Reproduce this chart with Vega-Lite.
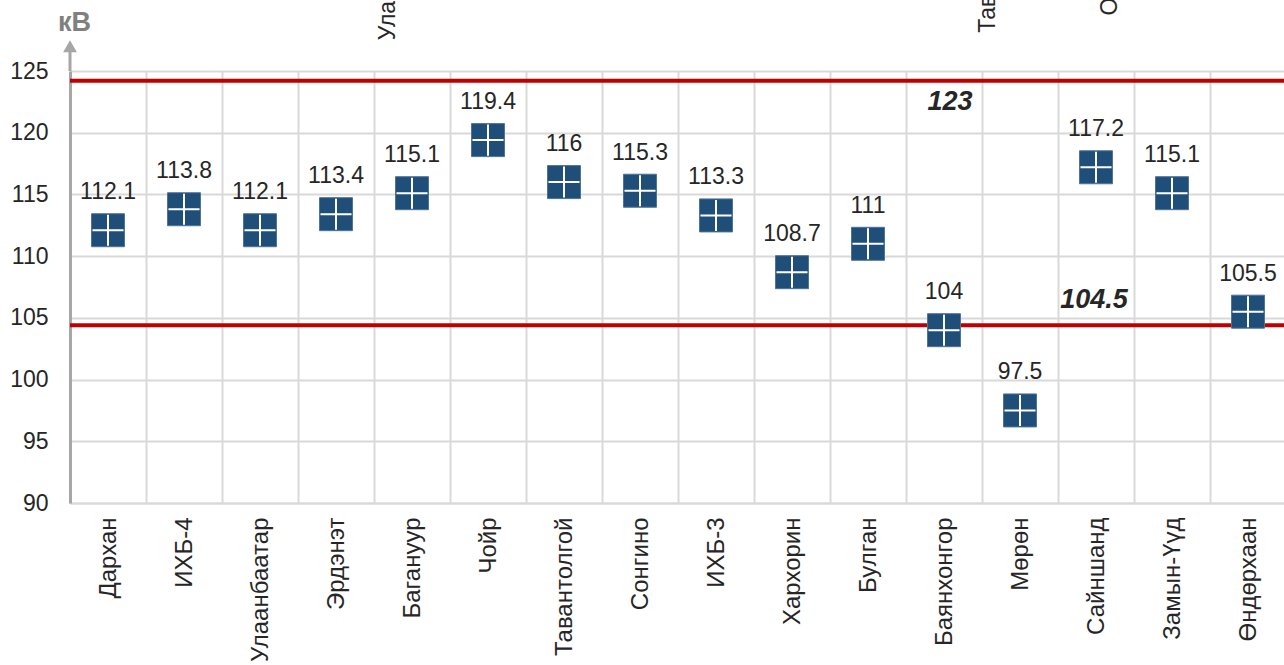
{
  "$schema": "https://vega.github.io/schema/vega-lite/v6.json",
  "autosize": {"type": "none"},
  "padding": {"left": 70, "top": 71, "right": 0, "bottom": 162},
  "width": 1216,
  "height": 432,
  "background": "white",
  "config": {
    "view": {"stroke": null},
    "font": "Liberation Sans",
    "text": {"font": "Liberation Sans"}
  },
  "datasets": {
    "stations": [
      {"station": "Дархан", "kv": 112.1},
      {"station": "ИХБ-4", "kv": 113.8},
      {"station": "Улаанбаатар", "kv": 112.1},
      {"station": "Эрдэнэт", "kv": 113.4},
      {"station": "Багануур", "kv": 115.1},
      {"station": "Чойр", "kv": 119.4},
      {"station": "Тавантолгой", "kv": 116},
      {"station": "Сонгино", "kv": 115.3},
      {"station": "ИХБ-3", "kv": 113.3},
      {"station": "Хархорин", "kv": 108.7},
      {"station": "Булган", "kv": 111},
      {"station": "Баянхонгор", "kv": 104},
      {"station": "Мөрөн", "kv": 97.5},
      {"station": "Сайншанд", "kv": 117.2},
      {"station": "Замын-Үүд", "kv": 115.1},
      {"station": "Өндөрхаан", "kv": 105.5}
    ],
    "limits": [
      {"v": 124.2, "label": "123"},
      {"v": 104.4, "label": "104.5"}
    ]
  },
  "layer": [
    {
      "data": {"name": "stations"},
      "mark": {"type": "point", "opacity": 0},
      "encoding": {
        "x": {
          "field": "station", "type": "nominal", "sort": null,
          "scale": {"paddingInner": 0, "paddingOuter": 0},
          "axis": {
            "title": null, "grid": true, "tickBand": "extent",
            "gridColor": "#D9D9D9", "gridWidth": 2,
            "ticks": false, "domainColor": "#D9D9D9", "domainWidth": 2,
            "labelAngle": 270, "labelFontSize": 24, "labelColor": "#262626",
            "labelPadding": 14, "labelFont": "Liberation Sans", "labelLimit": 300
          }
        },
        "y": {
          "field": "kv", "type": "quantitative",
          "scale": {"domain": [90, 125], "nice": false, "zero": false},
          "axis": {
            "values": [90, 95, 100, 105, 110, 115, 120, 125],
            "grid": true, "gridColor": "#D9D9D9", "gridWidth": 2,
            "ticks": false, "domainColor": "#A6A6A6", "domainWidth": 3,
            "labelFontSize": 23, "labelColor": "#262626", "labelPadding": 22,
            "labelFont": "Liberation Sans",
            "title": "кВ", "titleAngle": 0, "titleX": 4, "titleY": -49,
            "titleAlign": "center", "titleBaseline": "middle",
            "titleFontSize": 27, "titleFontWeight": "bold", "titleColor": "#808080",
            "titleFont": "Liberation Sans"
          }
        }
      }
    },
    {
      "data": {"name": "limits"},
      "mark": {"type": "rule", "color": "#C00000", "strokeWidth": 4},
      "encoding": {"y": {"field": "v", "type": "quantitative"}}
    },
    {
      "data": {"values": [{}]},
      "mark": {"type": "rule", "color": "#A6A6A6", "strokeWidth": 3},
      "encoding": {
        "x": {"datum": "Дархан", "bandPosition": 0},
        "y": {"datum": 125},
        "y2": {"datum": 126.6}
      }
    },
    {
      "data": {"values": [{}]},
      "mark": {"type": "point", "shape": "triangle-up", "filled": true, "color": "#A6A6A6", "size": 190, "opacity": 1},
      "encoding": {
        "x": {"datum": "Дархан", "bandPosition": 0},
        "y": {"datum": 127.0}
      }
    },
    {
      "data": {"name": "stations"},
      "mark": {"type": "point", "shape": "square", "filled": true, "color": "#1F4E79", "stroke": "#4F7399", "strokeWidth": 1, "size": 1089, "opacity": 1},
      "encoding": {
        "x": {"field": "station", "type": "nominal", "sort": null},
        "y": {"field": "kv", "type": "quantitative"}
      }
    },
    {
      "data": {"name": "stations"},
      "mark": {"type": "point", "shape": "M-0.94,0H0.94M0,-0.94V0.94", "filled": false, "stroke": "white", "strokeWidth": 2, "size": 1089, "opacity": 1},
      "encoding": {
        "x": {"field": "station", "type": "nominal", "sort": null},
        "y": {"field": "kv", "type": "quantitative"}
      }
    },
    {
      "data": {"name": "stations"},
      "mark": {"type": "text", "dy": -38, "fontSize": 23, "color": "#262626", "baseline": "middle", "align": "center"},
      "encoding": {
        "x": {"field": "station", "type": "nominal", "sort": null},
        "y": {"field": "kv", "type": "quantitative"},
        "text": {"field": "kv", "type": "quantitative"}
      }
    },
    {
      "data": {"name": "limits"},
      "transform": [{"filter": "datum.label === '123'"}],
      "mark": {"type": "text", "dx": 6, "dy": 21, "fontSize": 27, "fontWeight": "bold", "fontStyle": "italic", "color": "#262626", "baseline": "middle", "align": "center"},
      "encoding": {
        "x": {"datum": "Баянхонгор"},
        "y": {"field": "v", "type": "quantitative"},
        "text": {"field": "label"}
      }
    },
    {
      "data": {"name": "limits"},
      "transform": [{"filter": "datum.label === '104.5'"}],
      "mark": {"type": "text", "dx": -2, "dy": -25, "fontSize": 27, "fontWeight": "bold", "fontStyle": "italic", "color": "#262626", "baseline": "middle", "align": "center"},
      "encoding": {
        "x": {"datum": "Сайншанд"},
        "y": {"field": "v", "type": "quantitative"},
        "text": {"field": "label"}
      }
    },
    {
      "data": {"values": [{"t": "Улаанбаатар"}]},
      "mark": {"type": "text", "angle": 270, "align": "left", "baseline": "middle", "dy": -24, "fontSize": 23, "color": "#262626"},
      "encoding": {
        "x": {"datum": "Багануур"},
        "y": {"datum": 127.5},
        "text": {"field": "t"}
      }
    },
    {
      "data": {"values": [{"t": "Тавантолгой"}]},
      "mark": {"type": "text", "angle": 270, "align": "left", "baseline": "middle", "dy": -32, "fontSize": 23, "color": "#262626"},
      "encoding": {
        "x": {"datum": "Мөрөн"},
        "y": {"datum": 128.1},
        "text": {"field": "t"}
      }
    },
    {
      "data": {"values": [{"t": "Оюутолгой"}]},
      "mark": {"type": "text", "angle": 270, "align": "left", "baseline": "middle", "dy": 14, "fontSize": 23, "color": "#262626"},
      "encoding": {
        "x": {"datum": "Сайншанд"},
        "y": {"datum": 129.5},
        "text": {"field": "t"}
      }
    }
  ]
}
